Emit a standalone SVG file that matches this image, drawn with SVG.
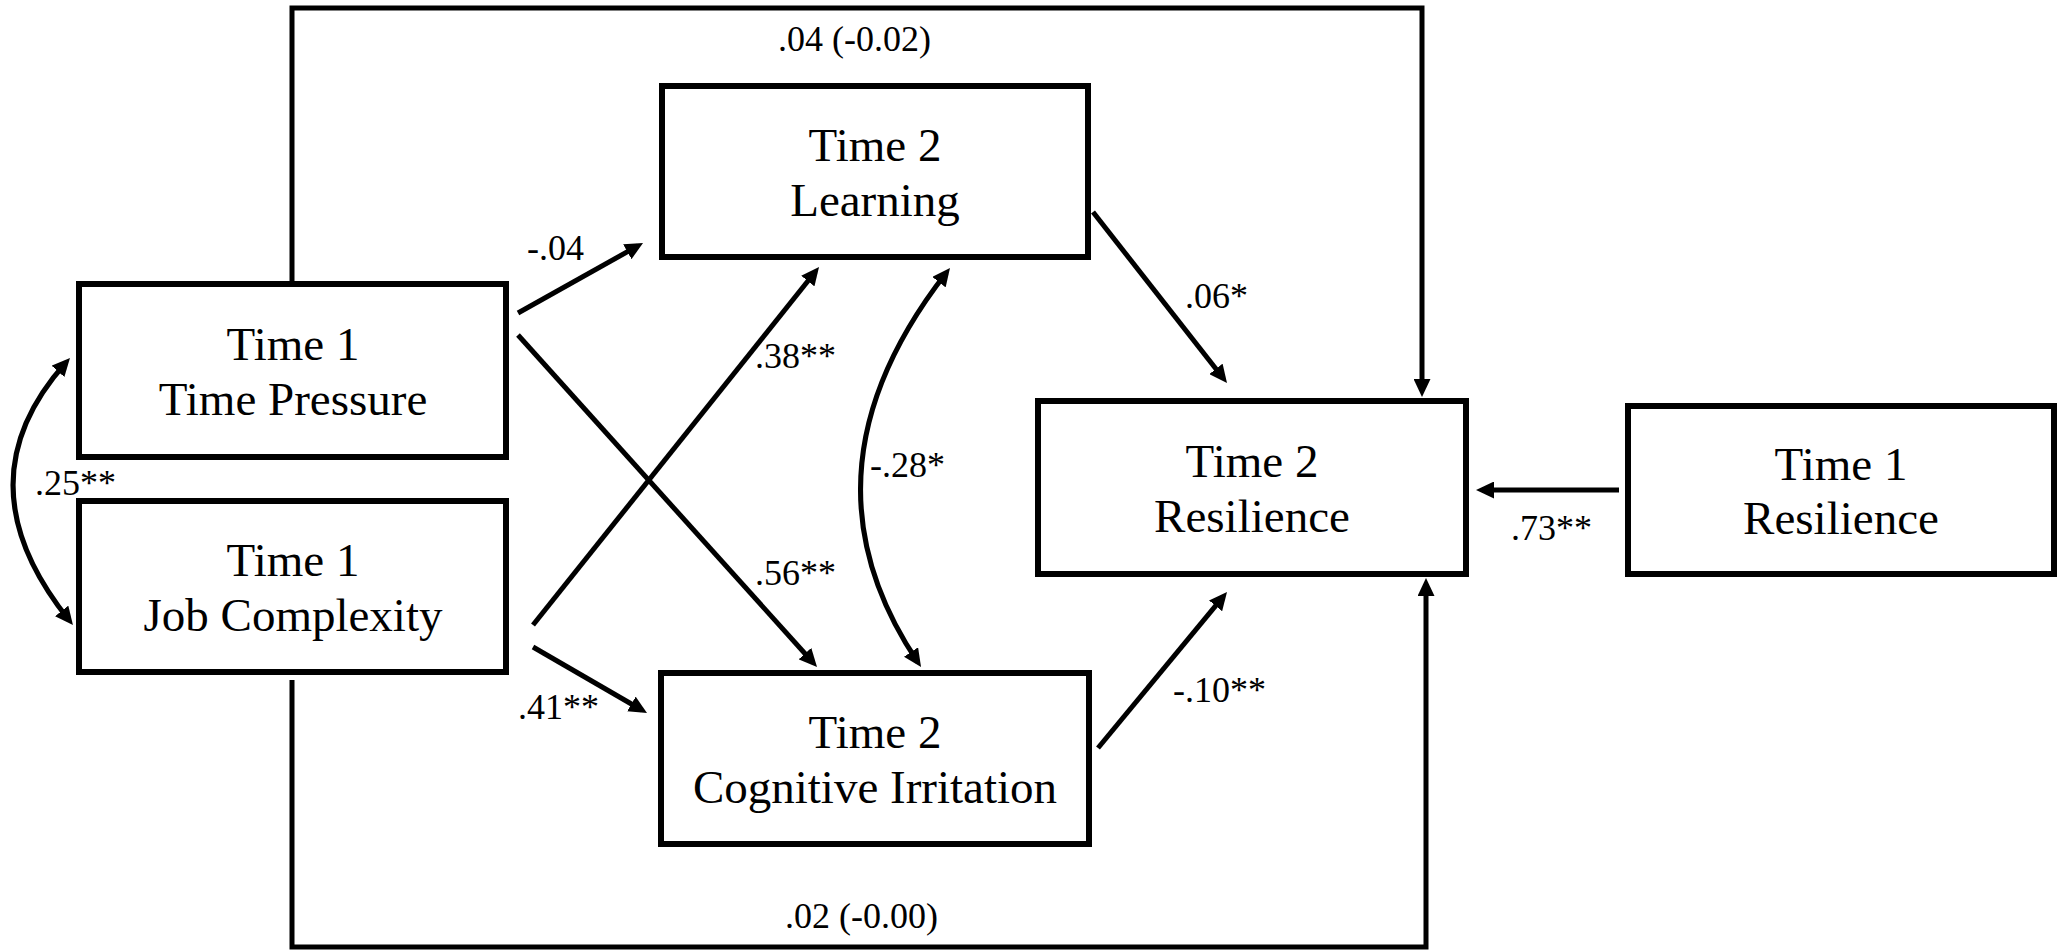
<svg xmlns="http://www.w3.org/2000/svg" width="2065" height="950" viewBox="0 0 2065 950">
<style>
.box{fill:#fff;stroke:#000;stroke-width:6}
.nt{font-family:"Liberation Serif","Times New Roman",serif;font-size:47px;fill:#000;text-anchor:middle}
.lb{font-family:"Liberation Serif","Times New Roman",serif;font-size:36px;fill:#000}
.ln{fill:none;stroke:#000;stroke-width:5}
.ar{marker-end:url(#ah)}
.bi{marker-start:url(#ahs);marker-end:url(#ah)}
</style>
<defs>
<marker id="ah" markerUnits="userSpaceOnUse" markerWidth="18" markerHeight="17" refX="12" refY="8.5" orient="auto">
<path d="M0,0 L18,8.5 L0,17 z" fill="#000"/>
</marker>
<marker id="ahs" markerUnits="userSpaceOnUse" markerWidth="18" markerHeight="17" refX="6" refY="8.5" orient="auto">
<path d="M18,0 L0,8.5 L18,17 z" fill="#000"/>
</marker>
</defs>
<rect width="2065" height="950" fill="#fff"/>
<g id="connectors">
<path class="ln ar" d="M292,282 V8 H1422 V391"/>
<path class="ln ar" d="M292,680 V947 H1426 V584"/>
<path class="ln ar" d="M518,313 L637.8,245.9"/>
<path class="ln ar" d="M518,335 L813,662.5"/>
<path class="ln ar" d="M533,625 L815.3,271.7"/>
<path class="ln ar" d="M533,647 L641.8,710"/>
<path class="ln ar" d="M1093,212 L1223.3,378.3"/>
<path class="ln ar" d="M1098,748 L1223.2,596.6"/>
<path class="ln ar" d="M1619,490 L1482,490"/>
<path class="ln bi" d="M66,362.5 Q-41.5,482.5 69.2,620.3"/>
<path class="ln bi" d="M946.3,272.7 Q790.5,472.5 917.7,662"/>
</g>
<g id="labels">
<text class="lb" x="778" y="51">.04 (-0.02)</text>
<text class="lb" x="527" y="260">-.04</text>
<text class="lb" x="755" y="368">.38**</text>
<text class="lb" x="755" y="585">.56**</text>
<text class="lb" x="870" y="477">-.28*</text>
<text class="lb" x="1185" y="308">.06*</text>
<text class="lb" x="1511" y="540">.73**</text>
<text class="lb" x="1173" y="702">-.10**</text>
<text class="lb" x="518" y="719">.41**</text>
<text class="lb" x="35" y="495">.25**</text>
<text class="lb" x="785" y="928">.02 (-0.00)</text>
</g>
<g id="t1-time-pressure">
<rect class="box" x="79" y="284" width="427" height="173"/>
<text class="nt" x="293" y="360">Time 1</text>
<text class="nt" x="293" y="415">Time Pressure</text>
</g>
<g id="t1-job-complexity">
<rect class="box" x="79" y="501" width="427" height="171"/>
<text class="nt" x="293" y="576">Time 1</text>
<text class="nt" x="293" y="631">Job Complexity</text>
</g>
<g id="t2-learning">
<rect class="box" x="662" y="86" width="426" height="171"/>
<text class="nt" x="875" y="161">Time 2</text>
<text class="nt" x="875" y="216">Learning</text>
</g>
<g id="t2-cognitive-irritation">
<rect class="box" x="661" y="673" width="428" height="171"/>
<text class="nt" x="875" y="748">Time 2</text>
<text class="nt" x="875" y="803">Cognitive Irritation</text>
</g>
<g id="t2-resilience">
<rect class="box" x="1038" y="401" width="428" height="173"/>
<text class="nt" x="1252" y="477">Time 2</text>
<text class="nt" x="1252" y="532">Resilience</text>
</g>
<g id="t1-resilience">
<rect class="box" x="1628" y="406" width="426" height="168"/>
<text class="nt" x="1841" y="480">Time 1</text>
<text class="nt" x="1841" y="534">Resilience</text>
</g>
</svg>
